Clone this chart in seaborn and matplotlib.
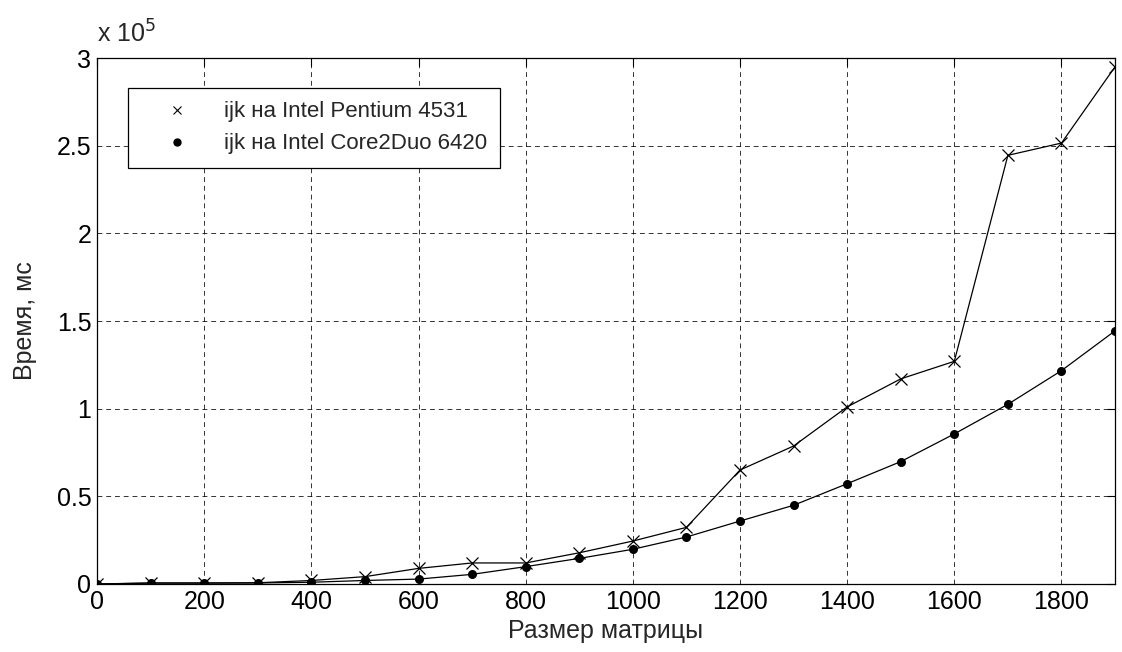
import numpy as np
import pandas as pd
import matplotlib
matplotlib.use("Agg")
import matplotlib.pyplot as plt
import seaborn as sns
from matplotlib.lines import Line2D
from matplotlib.ticker import FuncFormatter

sizes = [0, 100, 200, 300, 400, 500, 600, 700, 800, 900,
         1000, 1100, 1200, 1300, 1400, 1500, 1600, 1700, 1800, 1900]
pentium = [0, 600, 600, 700, 2000, 4200, 8900, 12000, 12000, 17800,
           24500, 32300, 65000, 78700, 101000, 117000, 127000, 244500, 251500, 295000]
core2duo = [0, 500, 500, 600, 1000, 2000, 2800, 5500, 9900, 14600,
            19800, 26800, 35900, 44900, 57200, 69800, 85600, 102500, 121700, 144400]
labels = ["ijk на Intel Pentium 4531", "ijk на Intel Core2Duo 6420"]

sns.set_style("white")
plt.rcParams["font.family"] = ["Liberation Sans", "DejaVu Sans"]

fig = plt.figure(figsize=(11.22, 6.52), dpi=100)
ax = fig.add_axes([0.0865, 0.1043, 0.9073, 0.8067])

df = pd.DataFrame({"size": sizes, "p": pentium, "c": core2duo})
sns.lineplot(data=df, x="size", y="p", ax=ax, color="black", lw=0.9,
             marker="x", markersize=8, markeredgewidth=0.9,
             markeredgecolor="black")
sns.lineplot(data=df, x="size", y="c", ax=ax, color="black", lw=0.9,
             marker="o", markersize=6.5, markeredgewidth=0)

ax.set_xlim(0, 1900)
ax.set_ylim(0, 3e5)
ax.set_xticks(np.arange(0, 1801, 200))
ax.set_yticks(np.arange(0, 3.01e5, 0.5e5))
ax.yaxis.set_major_formatter(FuncFormatter(lambda v, p: f"{v/1e5:g}"))
ax.grid(True, color="black", linestyle=(0, (5, 4)), linewidth=0.7, alpha=0.8)
ax.tick_params(direction="in", top=True, right=True, length=6,
               labelsize=18, colors="black", width=0.8, pad=4)
for s in ax.spines.values():
    s.set_color("black")
    s.set_linewidth(0.9)

ax.set_xlabel("Размер матрицы", fontsize=18, labelpad=4)
ax.set_ylabel("Время, мс", fontsize=18, labelpad=14)
ax.text(0.0, 1.02, "x 10$^{5}$", transform=ax.transAxes, fontsize=18,
        ha="left", va="bottom")

handles = [Line2D([], [], color="black", marker="x", linestyle="none",
                  markersize=6, markeredgewidth=0.8),
           Line2D([], [], color="black", marker="o", linestyle="none",
                  markersize=6, markeredgewidth=0)]
leg = ax.legend(handles, labels, loc="upper left", bbox_to_anchor=(0.0305, 0.943),
                borderaxespad=0, fontsize=16, frameon=True, fancybox=False,
                framealpha=1, edgecolor="black", handletextpad=0.5,
                borderpad=0.6, labelspacing=0.5, handlelength=3.2)
leg.get_frame().set_linewidth(0.9)

fig.savefig("out.png", dpi=100)
